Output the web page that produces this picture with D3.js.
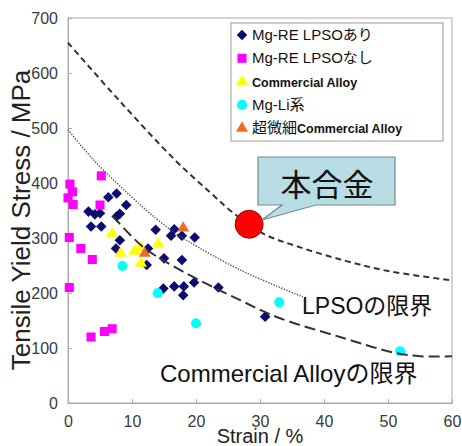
<!DOCTYPE html>
<html><head><meta charset="utf-8">
<script src="https://cdn.jsdelivr.net/npm/d3@7"></script>
<style>
html,body{margin:0;padding:0;background:#fff;}
svg{display:block;font-family:"Liberation Sans",Arial,"Noto Sans CJK JP",sans-serif;}
</style></head>
<body><svg id="c" width="462" height="446"></svg>
<script>
// ---- data (strain %, tensile yield stress MPa) ----
const xTicks = [0,10,20,30,40,50,60];
const yTicks = [0,100,200,300,400,500,600,700];
const seriesNames = ["Mg-RE LPSOあり","Mg-RE LPSOなし","Commercial Alloy","Mg-Li系","超微細Commercial Alloy"];
const lpsoAri = [[6.3,374],[7.6,381],[9.1,360],[3.2,348],[4.2,343],[5,345],[8.1,344],[7.6,339],[3.6,321],[5.2,321],
  [13.7,315],[16.6,316],[16.1,304],[17.8,304],[19.8,301],[8.1,296],[7.5,281],[12.5,281],[15,263],[17.8,260],
  [12.3,251],[14.9,208],[16.6,212],[18.1,212],[18,196],[19.7,219],[23.5,210],[30.8,157]];
const lpsoNashi = [[0.3,398],[0.7,384],[0,373],[0.8,361],[5.2,413],[5,360],[0.2,301],[2,281],[3.8,261],[0.2,210],
  [3.6,120],[5.7,130],[6.9,135]];
const commercial = [[6.9,308],[8.2,272],[10.4,276],[11.3,283],[11.4,254],[14.1,289]];
const mgLi = [[8.5,249],[14,200],[20,145],[33,183],[51.9,94]];
const ultrafine = [[12,272],[18,318]];
const thisAlloy = [[28.3,325]];
const upperLimit = [[0,655],[8,550],[16.7,442],[22,385],[26.1,343],[30.5,308],[36,284],[43.5,258],[50,240],[60,223]];
const lpsoLimit = [[0,497],[4,442],[11.6,357],[15.7,318],[18.5,296],[26.9,242],[36.7,193]];
const commercialLimit = [[7,340],[11.7,284],[17.5,242],[26.9,187],[32.7,156],[42.5,120],[50.8,92],[55,85],[60,85]];

const svg = d3.select("#c");
const x = d3.scaleLinear().domain([0,60]).range([68,452]);
const y = d3.scaleLinear().domain([0,700]).range([403,18]);
const axisCol = "#aaaaaa";

// frame
svg.append("rect").attr("x",68).attr("y",18).attr("width",384).attr("height",385)
  .attr("fill","none").attr("stroke",axisCol).attr("stroke-width",1);

const xa = svg.append("g").attr("transform","translate(0,403)")
  .call(d3.axisBottom(x).tickValues(xTicks).tickSizeInner(-4).tickSizeOuter(0).tickPadding(10));
const ya = svg.append("g").attr("transform","translate(68,0)")
  .call(d3.axisLeft(y).tickValues(yTicks).tickSizeInner(-4).tickSizeOuter(0).tickPadding(10));
[xa,ya].forEach(g=>{
  g.select(".domain").attr("stroke",axisCol);
  g.selectAll(".tick line").attr("stroke",axisCol);
  g.selectAll(".tick text").attr("fill","#3a3a3a").attr("font-size",16)
   .attr("font-family","'Liberation Sans',Arial,sans-serif");
});
xa.selectAll(".tick text").attr("dy","0.85em");

svg.append("text").attr("x",260).attr("y",443).attr("text-anchor","middle")
  .attr("font-size",20).attr("fill","#222").text("Strain / %");
svg.append("text").attr("transform","translate(30,220) rotate(-90)").attr("text-anchor","middle")
  .attr("font-size",26).attr("fill","#222").text("Tensile Yield Stress / MPa");

// markers
const sym = (type,size)=>d3.symbol().type(type).size(size)();
const styles = [
  {data:lpsoAri, d:sym(d3.symbolSquare,56), rot:45, fill:"#0b0b72"},
  {data:lpsoNashi, d:sym(d3.symbolSquare,82), rot:0, fill:"#ff00ff"},
  {data:commercial, d:sym(d3.symbolTriangle,62), rot:0, fill:"#ffff00"},
  {data:mgLi, d:sym(d3.symbolCircle,80), rot:0, fill:"#00ffff"},
  {data:ultrafine, d:sym(d3.symbolTriangle,62), rot:0, fill:"#f26a1b"}
];
styles.forEach(s=>{
  svg.append("g").selectAll("path").data(s.data).join("path")
    .attr("d",s.d).attr("fill",s.fill)
    .attr("transform",d=>`translate(${x(d[0])},${y(d[1])}) rotate(${s.rot})`);
});

// limit curves
const line = d3.line().x(d=>x(d[0])).y(d=>y(d[1])).curve(d3.curveCatmullRom.alpha(0.5));
svg.append("path").attr("d",line(upperLimit)).attr("fill","none").attr("stroke","#333")
  .attr("stroke-width",2).attr("stroke-dasharray","6,4");
svg.append("path").attr("d",line(lpsoLimit)).attr("fill","none").attr("stroke","#555")
  .attr("stroke-width",1.4).attr("stroke-dasharray","1.4,1.4");
svg.append("path").attr("d",line(commercialLimit)).attr("fill","none").attr("stroke","#333")
  .attr("stroke-width",2).attr("stroke-dasharray","11,5");

svg.append("text").attr("x",302).attr("y",314).attr("font-size",23).attr("fill","#111").text("LPSOの限界");
svg.append("text").attr("x",160).attr("y",382).attr("font-size",24).attr("fill","#111").text("Commercial Alloyの限界");

// this alloy
svg.append("g").selectAll("circle").data(thisAlloy).join("circle")
  .attr("cx",d=>x(d[0])).attr("cy",d=>y(d[1])).attr("r",14)
  .attr("fill","#ff0000").attr("stroke","#a00000").attr("stroke-width",1);

// callout
svg.append("path").attr("d","M258,157 H395 V205 H316 L262,220 L282,205 H258 Z")
  .attr("fill","#b8dde5").attr("stroke","#6f8c92").attr("stroke-width",1.2);
svg.append("text").attr("x",327).attr("y",196).attr("text-anchor","middle")
  .attr("font-family","'Noto Sans CJK JP',sans-serif").attr("font-size",31).attr("fill","#111").text("本合金");

// legend
const lg = svg.append("g");
lg.append("rect").attr("x",231).attr("y",23).attr("width",212).attr("height",118)
  .attr("fill","#fff").attr("stroke","#999").attr("stroke-width",1);
const rowY = i=>35 + i*23.3;
styles.forEach((s,i)=>{
  lg.append("path").attr("d",s.d).attr("fill",s.fill)
    .attr("transform",`translate(242,${rowY(i)}) rotate(${s.rot})`);
});
const lt = (i,parts)=>{
  const t = lg.append("text").attr("x",252).attr("y",rowY(i)+5).attr("fill","#111");
  parts.forEach(p=>t.append("tspan").attr("font-size",p[1]).attr("font-weight",p[2]||"normal").text(p[0]));
};
lt(0,[["Mg-RE LPSOあり",15]]);
lt(1,[["Mg-RE LPSOなし",15]]);
lt(2,[["Commercial Alloy",12.5,"bold"]]);
lt(3,[["Mg-Li系",15]]);
lt(4,[["超微細",15],["Commercial Alloy",12.5,"bold"]]);
</script></body></html>
